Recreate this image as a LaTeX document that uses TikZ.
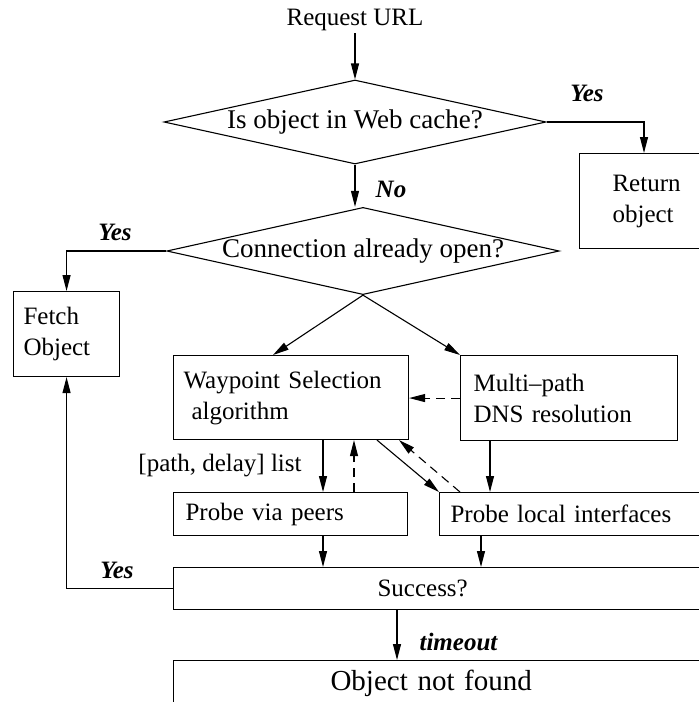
\documentclass[tikz,border=0pt]{standalone}
\usepackage{fontspec}
\setmainfont{Liberation Serif}
\usetikzlibrary{arrows.meta,shapes.geometric}

\newcommand{\fsize}{\fontsize{25}{31}\selectfont}

\begin{document}
\begin{tikzpicture}[x=1pt, y=-1pt, line width=1.1pt,
    box/.style={draw, anchor=north west, align=left, inner ysep=0pt, font=\fsize},
    decision/.style={draw, diamond, shape aspect=4.5, inner sep=0pt,
        minimum width=382pt, minimum height=84pt, font=\fontsize{27}{32}\selectfont},
    lbl/.style={inner sep=2pt, font=\fsize\bfseries\itshape},
    txt/.style={inner sep=2pt, font=\fsize},
    arr/.style={-{Triangle[length=16pt,width=8pt]}},
    darr/.style={arr, dash pattern=on 9pt off 6pt}]
    \useasboundingbox (0,0) rectangle (699,702);
    \clip (0,0) rectangle (699,702);
    % Request and cache lookup
    \node[txt] (url) at (355,20) {Request URL};
    \node[decision] (cache) at (355,122) {Is object in Web cache?};
    \node[box, inner xsep=33pt, text width=100pt, minimum height=95pt]
        (ret) at (579,153) {Return\\object};
    \node[lbl] (yes1) at (587,93) {Yes};
    \node[lbl] (no) at (391,189) {No};
    % Open connection check
    \node[decision] (conn) at (363,251) {Connection already open?};
    \node[box, inner xsep=10pt, text width=86pt, minimum height=85pt]
        (fetch) at (13,291) {Fetch\\Object};
    \node[lbl] (yes2) at (115,232) {Yes};
    % Waypoint selection and DNS
    \node[box, inner xsep=10pt, text width=215pt, minimum height=84pt]
        (wp) at (173,355) {Waypoint Selection\\\hspace*{8pt}algorithm};
    \node[box, inner xsep=13pt, text width=191pt, minimum height=85pt]
        (dns) at (460,355) {Multi--path\\DNS resolution};
    \node[txt] (pdl) at (220,466) {[path, delay] list};
    % Probes
    \node[box, inner xsep=12pt, text width=210pt, minimum height=43pt]
        (peers) at (173,492) {Probe via peers};
    \node[box, inner xsep=11pt, text width=280pt, minimum height=43pt]
        (local) at (439,492) {Probe local interfaces};
    % Result
    \node[box, inner xsep=204pt, text width=130pt, minimum height=42pt]
        (succ) at (173,567) {Success?};
    \node[lbl] (yes3) at (117,570) {Yes};
    \node[lbl, anchor=west] (tmo) at (417,642) {timeout};
    \node[box, inner xsep=157pt, text width=250pt, minimum height=46pt,
        font=\fontsize{29}{34}\selectfont]
        (nf) at (173,660) {Object not found};
    % Connectors
    \draw[arr] (url.south) -- (cache.north);
    \draw[arr] (cache.east) -| ([xshift=65pt]ret.north west);
    \draw[arr] (cache.south) -- (cache.south |- conn.north);
    \draw[arr] (conn.west) -| (fetch.north);
    \draw[arr] (conn.south) -- ([xshift=100pt]wp.north west);
    \draw[arr] (conn.south) -- (dns.north west);
    \draw[darr] (dns.west) -- (dns.west -| wp.east);
    \draw[arr] ([xshift=150pt]wp.south west) -- ([xshift=150pt]peers.north west);
    \draw[darr] ([xshift=181pt]peers.north west) -- ([xshift=181pt]wp.south west);
    \draw[arr] ([xshift=204pt]wp.south west) -- (local.north west);
    \draw[darr] ([xshift=21pt]local.north west) -- ([xshift=226pt]wp.south west);
    \draw[arr] ([xshift=30pt]dns.south west) -- ([xshift=51pt]local.north west);
    \draw[arr] ([xshift=150pt]peers.south west) -- ([xshift=150pt]succ.north west);
    \draw[arr] ([xshift=42pt]local.south west) -- ([xshift=42pt]local.south west |- succ.north);
    \draw[arr] (succ.west) -| (fetch.south);
    \draw[arr] ([xshift=224pt]succ.south west) -- ([xshift=224pt]nf.north west);
\end{tikzpicture}
\end{document}
